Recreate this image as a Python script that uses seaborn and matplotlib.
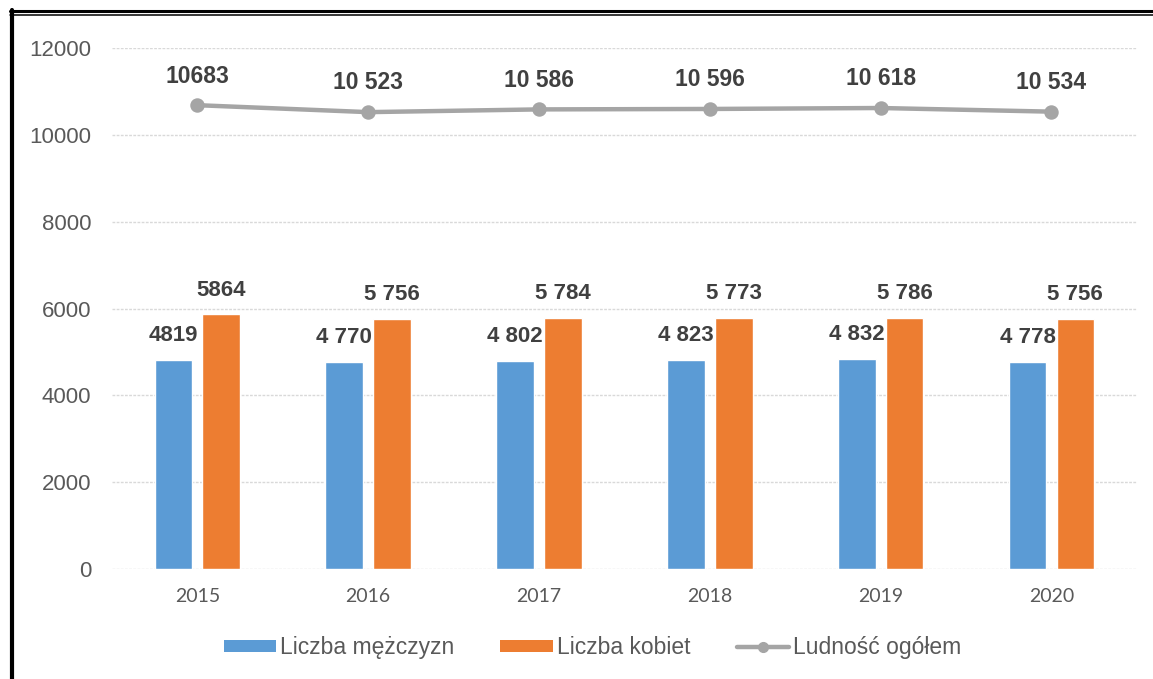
import matplotlib
matplotlib.use("Agg")
import matplotlib.pyplot as plt
from matplotlib.lines import Line2D
from matplotlib.patches import Patch
import pandas as pd
import seaborn as sns

years = ["2015", "2016", "2017", "2018", "2019", "2020"]
men = [4819, 4770, 4802, 4823, 4832, 4778]
women = [5864, 5756, 5784, 5773, 5786, 5756]
total = [10683, 10523, 10586, 10596, 10618, 10534]
men_labels = ["4819", "4 770", "4 802", "4 823", "4 832", "4 778"]
women_labels = ["5864", "5 756", "5 784", "5 773", "5 786", "5 756"]
total_labels = ["10683", "10 523", "10 586", "10 596", "10 618", "10 534"]
series_names = ["Liczba mężczyzn", "Liczba kobiet", "Ludność ogółem"]
yticks = [0, 2000, 4000, 6000, 8000, 10000, 12000]

BLUE, ORANGE, GREY = "#5B9BD5", "#ED7D31", "#A5A5A5"
TEXT = "#595959"
LABEL = "#404040"

sns.set_theme(style="white")
plt.rcParams["font.family"] = ["Liberation Sans", "DejaVu Sans"]

bars = pd.DataFrame({
    "rok": years * 2,
    "liczba": men + women,
    "seria": [series_names[0]] * len(years) + [series_names[1]] * len(years),
})
line = pd.DataFrame({"rok": years, "liczba": total})

fig = plt.figure(figsize=(11.53, 6.79), dpi=100)
ax = fig.add_axes([0.0971, 0.162, 0.8889, 0.7673])

sns.barplot(data=bars, x="rok", y="liczba", hue="seria", order=years,
            palette=[BLUE, ORANGE], width=0.56, gap=0.214, saturation=1,
            legend=False, ax=ax)
sns.pointplot(data=line, x="rok", y="liczba", order=years, color=GREY,
              markers="o", markersize=8, linewidth=3.2, ax=ax, zorder=3)

for cont, labels in zip(ax.containers[:2], [men_labels, women_labels]):
    ax.bar_label(cont, labels=labels, padding=10, fontsize=16,
                 fontweight="bold", color=LABEL)

for i, (v, lab) in enumerate(zip(total, total_labels)):
    ax.annotate(lab, (i, v), xytext=(0, 21), textcoords="offset points",
                ha="center", va="center", fontsize=16.5, fontweight="bold",
                color=LABEL)

ax.set_xlim(-0.5, len(years) - 0.5)
ax.set_ylim(0, 12000)
ax.set_yticks(yticks)
ax.set_yticklabels([str(t) for t in yticks])
ax.yaxis.grid(True, color="#D9D9D9", linewidth=1, linestyle=(0, (2, 1)))
ax.set_axisbelow(True)
for s in ax.spines.values():
    s.set_visible(False)
ax.tick_params(axis="y", length=0, pad=15, labelsize=16, labelcolor=TEXT)
ax.tick_params(axis="x", length=0, pad=14, labelsize=14, labelcolor=TEXT)
for t in ax.get_xticklabels():
    t.set_fontfamily(["Lato", "DejaVu Sans"])
ax.set_xlabel("")
ax.set_ylabel("")

handles = [
    Patch(facecolor=BLUE, edgecolor="none"),
    Patch(facecolor=ORANGE, edgecolor="none"),
    Line2D([], [], color=GREY, linewidth=3.2, marker="o", markersize=7),
]
fig.legend(handles, series_names, loc="center", bbox_to_anchor=(0.514, 0.046),
           ncol=3, frameon=False, fontsize=16.5, labelcolor=TEXT,
           handlelength=2.3, handleheight=0.4, handletextpad=0.18,
           columnspacing=2.0)

# page frame: double rule on top, heavy rule on the left
W, H = 1153, 679
fig.add_artist(Line2D([10 / W, 1], [1 - 11 / H, 1 - 11 / H], color="black",
                      linewidth=2.2, transform=fig.transFigure))
fig.add_artist(Line2D([10 / W, 1], [1 - 14.5 / H, 1 - 14.5 / H], color="black",
                      linewidth=1.1, transform=fig.transFigure))
fig.add_artist(Line2D([12 / W, 12 / W], [0, 1 - 10 / H], color="black",
                      linewidth=3, transform=fig.transFigure))

fig.savefig("out.png", dpi=100)
